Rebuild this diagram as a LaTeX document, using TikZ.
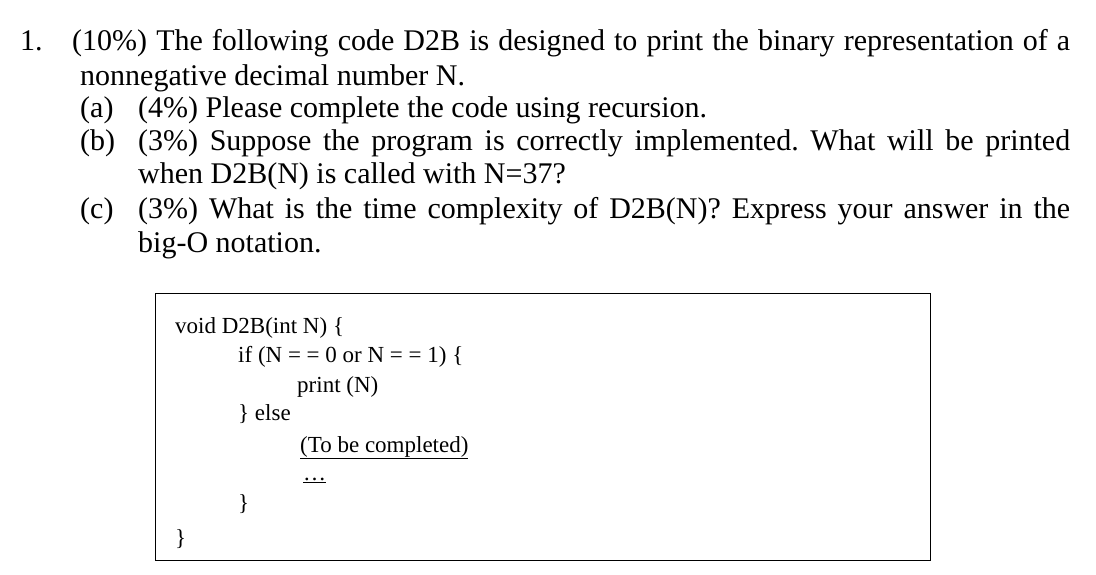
\documentclass[tikz,border=0pt]{standalone}
\usepackage{fontspec}
\setmainfont{Liberation Serif}
\frenchspacing
\begin{document}
\begin{tikzpicture}[x=1pt,y=-1pt,
  t/.style={anchor=base west,inner sep=0pt,font=\fontsize{30}{36}\selectfont},
  c/.style={anchor=base west,inner sep=0pt,font=\fontsize{23}{26}\selectfont}]
\useasboundingbox (0,0) rectangle (1096,574);
\node[t] (n1) at (20,50) {1.};
\node[t] (l1) at (72,50) {\hbox to 998pt{(10\%) The following code D2B is designed to print the binary representation of a}};
\node[t] (l2) at (80,85) {nonnegative decimal number N.};
\node[t] (a) at (80,117) {(a)};
\node[t] (la) at (138,117) {(4\%) Please complete the code using recursion.};
\node[t] (b) at (80,150) {(b)};
\node[t] (lb) at (138,150) {\hbox to 932pt{(3\%) Suppose the program is correctly implemented. What will be printed}};
\node[t] (lb2) at (138,183) {when D2B(N) is called with N=37?};
\node[t] (cc) at (80,218) {(c)};
\node[t] (lc) at (138,218) {\hbox to 932pt{(3\%) What is the time complexity of D2B(N)? Express your answer in the}};
\node[t] (lc2) at (138,252) {big-O notation.};
\node[draw,line width=1pt,minimum width=775pt,minimum height=267pt,anchor=north west,inner sep=0pt] (box) at (155,293) {};
\node[c] (k1) at (175,333) {void D2B(int N) \{};
\node[c] (k2) at (238,362) {if (N = = 0 or N = = 1) \{};
\node[c] (k3) at (297,392) {print (N)};
\node[c] (k4) at (238,420) {\} else};
\node[c] (k5) at (300,452) {\underline{(To be completed)}};
\node[c] (k6) at (303,480) {\underline{\ldots}};
\node[c] (k7) at (238,510) {\}};
\node[c] (k8) at (175,545) {\}};
\end{tikzpicture}
\end{document}
